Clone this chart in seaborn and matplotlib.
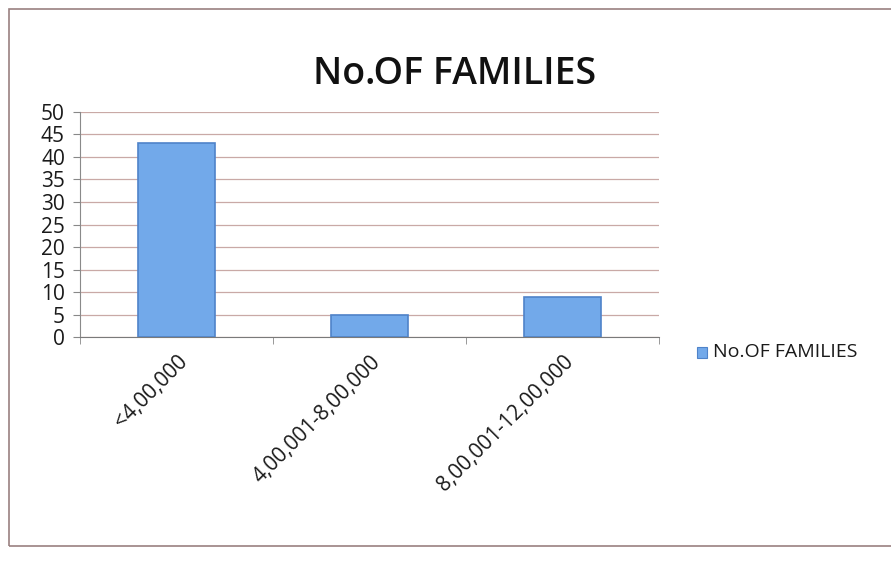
import numpy as np
import pandas as pd
import seaborn as sns
import matplotlib.pyplot as plt
from matplotlib.patches import Rectangle

# values
income_groups = ['<4,00,000', '4,00,001-8,00,000', '8,00,001-12,00,000']
families = [43, 5, 9]
y_ticks = [0, 5, 10, 15, 20, 25, 30, 35, 40, 45, 50]
series_name = 'No.OF FAMILIES'

df = pd.DataFrame({'group': income_groups, 'count': families})

sns.set_style('white')
plt.rcParams['font.family'] = ['Open Sans', 'DejaVu Sans']

fig = plt.figure(figsize=(8.91, 5.72), dpi=100)
ax = fig.add_axes([0.09, 0.41, 0.65, 0.395])

sns.barplot(data=df, x='group', y='count', ax=ax, color='#72a9ea',
            width=0.4, edgecolor='#4f83c9', linewidth=1.2, saturation=1)

ax.set_ylim(0, 50)
ax.set_xlim(-0.5, 2.5)
ax.set_yticks(y_ticks)
ax.set_yticklabels([str(v) for v in y_ticks], fontsize=15, color='#1a1a1a')
ax.yaxis.grid(True, color='#c9a9a6', linewidth=0.9)
ax.set_axisbelow(True)

# category boundaries carry the tick marks, labels sit at the centres
ax.set_xticks([0, 1, 2])
ax.set_xticklabels(income_groups, rotation=45, ha='right', rotation_mode='anchor',
                   fontsize=15, color='#1a1a1a')
ax.set_xticks([-0.5, 0.5, 1.5, 2.5], minor=True)
ax.tick_params(axis='x', which='major', length=0, pad=10)
ax.tick_params(axis='x', which='minor', length=5, color='#888888', direction='out', bottom=True)
ax.tick_params(axis='y', length=5, color='#888888', direction='out', left=True, pad=6)
ax.set_xlabel('')
ax.set_ylabel('')

for side in ['top', 'right']:
    ax.spines[side].set_visible(False)
ax.spines['left'].set_color('#8a8a8a')
ax.spines['bottom'].set_color('#7a7a7a')

fig.text(0.51, 0.87, 'No.OF FAMILIES', ha='center', va='center', fontsize=27,
         fontweight='semibold', color='#111111')

# legend
fig.patches.append(Rectangle((0.782, 0.375), 0.012, 0.019, transform=fig.transFigure,
                             facecolor='#72a9ea', edgecolor='#4f83c9', linewidth=0.8))
fig.text(0.80, 0.384, series_name, ha='left', va='center', fontsize=14, color='#1a1a1a')

# outer chart frame
fig.patches.append(Rectangle((0.01, 0.045), 1.2, 0.94, transform=fig.transFigure,
                             fill=False, edgecolor='#9a8080', linewidth=1.2))

fig.savefig('out.png', dpi=100)
